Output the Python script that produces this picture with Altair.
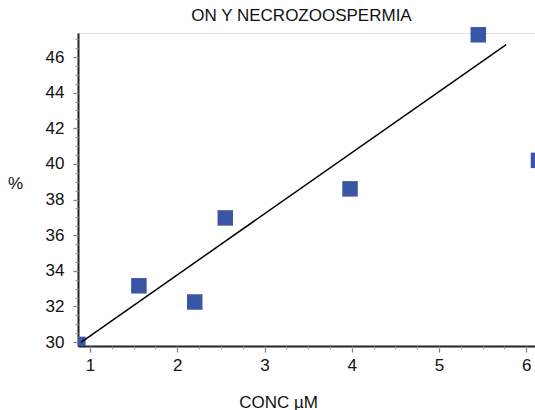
import altair as alt
import pandas as pd

# data
conc = [0.86, 1.56, 2.20, 2.55, 3.98, 5.45, 6.14]
pct = [29.87, 33.16, 32.25, 36.97, 38.6, 47.25, 40.2]
fit_x = [0.90, 5.77]
fit_y = [30.0, 46.7]

x_major = [1, 2, 3, 4, 5, 6]
x_minor = [1 + 0.25 * k for k in range(21)]
y_major = [30, 32, 34, 36, 38, 40, 42, 44, 46]
y_minor = [30 + 0.5 * k for k in range(35)]

pts = pd.DataFrame({"x": conc, "y": pct})
fit = pd.DataFrame({"x": fit_x, "y": fit_y})

FONT = "Liberation Sans"
FS = 17

xscale = alt.Scale(domain=[0.862, 6.10], nice=False, zero=False)
yscale = alt.Scale(domain=[29.78, 47.35], nice=False, zero=False)

xaxis = alt.Axis(
    title="CONC µM", values=x_major, grid=False, format="d", orient="bottom",
    tickSize=6, tickColor="#777777", tickWidth=1.2,
    domainColor="#222222", domainWidth=2,
    labelFont=FONT, labelFontSize=FS, labelColor="#111111", labelPadding=5,
    labelFlush=False, labelOverlap=False,
    titleFont=FONT, titleFontSize=FS, titleFontWeight="normal", titleColor="#111111",
    titleX=200, titleY=61, titleBaseline="alphabetic", titleAlign="center",
)
yaxis = alt.Axis(
    title="%", values=y_major, grid=False, format="d", orient="left",
    tickSize=5, tickColor="#777777", tickWidth=1.2,
    domainColor="#222222", domainWidth=2,
    labelFont=FONT, labelFontSize=FS, labelColor="#111111", labelPadding=9,
    labelFlush=False, labelOverlap=False,
    titleFont=FONT, titleFontSize=FS, titleFontWeight="normal", titleColor="#111111",
    titleAngle=0, titleX=-63, titleY=150, titleBaseline="middle", titleAlign="center",
)
xminor = alt.Axis(values=x_minor, orient="bottom", labels=False, domain=False, grid=False,
                  title=None, tickSize=3, tickColor="#999999", tickWidth=1.2)
yminor = alt.Axis(values=y_minor, orient="left", labels=False, domain=False, grid=False,
                  title=None, tickSize=3, tickColor="#999999", tickWidth=1.2)

base = alt.Chart(pts)
points_clipped = base.mark_square(size=240, color="#3A55A6", opacity=1, clip=True).encode(
    x=alt.X("x:Q", scale=xscale, axis=xaxis),
    y=alt.Y("y:Q", scale=yscale, axis=yaxis),
).transform_filter("datum.x < 1")
points_free = base.mark_square(size=240, color="#3A55A6", opacity=1, clip=False).encode(
    x=alt.X("x:Q", scale=xscale, axis=xminor),
    y=alt.Y("y:Q", scale=yscale, axis=yminor),
).transform_filter("datum.x >= 1")
line = alt.Chart(fit).mark_line(color="#000000", strokeWidth=1.5, clip=True).encode(
    x=alt.X("x:Q", scale=xscale, axis=None),
    y=alt.Y("y:Q", scale=yscale, axis=None),
)

chart = alt.layer(points_clipped, points_free, line).resolve_axis(x="independent", y="independent").properties(
    width=457, height=313,
    title=alt.TitleParams("ON Y NECROZOOSPERMIA", font=FONT, fontSize=FS, fontWeight="normal",
                          color="#111111", anchor="middle", dx=-5, offset=2),
    autosize=alt.AutoSizeParams(type="none"),
    padding={"left": 78, "top": 33, "right": 0, "bottom": 64},
).configure_view(stroke=None).configure(background="white")

chart.save("out.html", embed_options={"renderer": "svg", "actions": False})
